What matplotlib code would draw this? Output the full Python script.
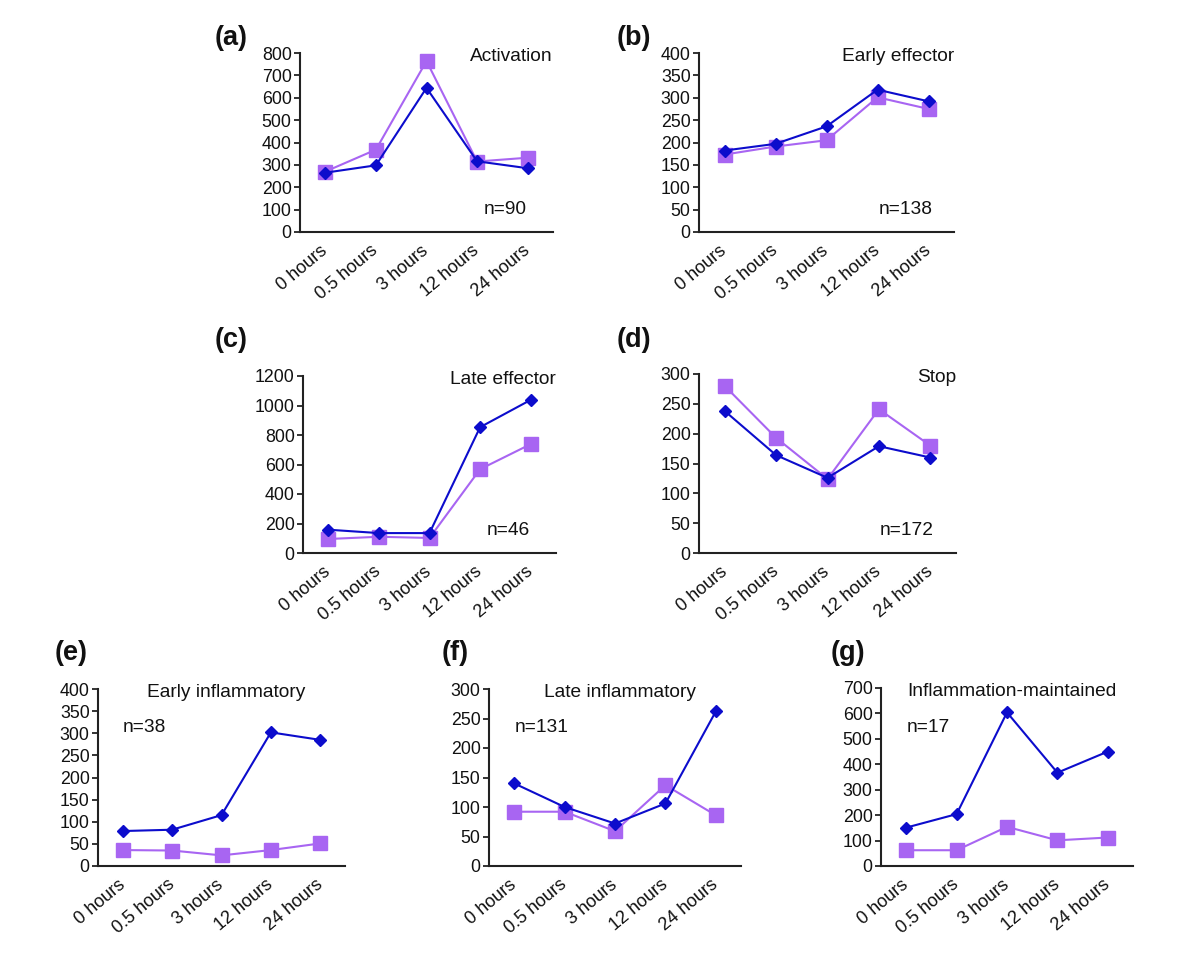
import matplotlib
matplotlib.use("Agg")
import matplotlib.pyplot as plt

plt.rcParams['font.family'] = ['Liberation Sans', 'DejaVu Sans']

categories = ["0 hours", "0.5 hours", "3 hours", "12 hours", "24 hours"]

panel_labels = ["(a)", "(b)", "(c)", "(d)", "(e)", "(f)", "(g)"]
titles = ["Activation", "Early effector", "Late effector", "Stop",
          "Early inflammatory", "Late inflammatory", "Inflammation-maintained"]
n_labels = ["n=90", "n=138", "n=46", "n=172", "n=38", "n=131", "n=17"]

blue_a = [265, 298, 644, 316, 285]
purple_a = [270, 368, 764, 315, 332]
blue_b = [182, 197, 236, 318, 292]
purple_b = [173, 191, 205, 301, 275]
blue_c = [158, 135, 135, 853, 1038]
purple_c = [95, 110, 102, 568, 738]
blue_d = [238, 164, 126, 179, 160]
purple_d = [280, 193, 124, 241, 180]
blue_e = [79, 82, 115, 302, 285]
purple_e = [36, 35, 24, 36, 51]
blue_f = [140, 100, 72, 106, 262]
purple_f = [92, 92, 59, 137, 86]
blue_g = [151, 204, 604, 367, 450]
purple_g = [62, 62, 154, 101, 112]

blues = [blue_a, blue_b, blue_c, blue_d, blue_e, blue_f, blue_g]
purples = [purple_a, purple_b, purple_c, purple_d, purple_e, purple_f, purple_g]
ymax = [800, 400, 1200, 300, 400, 300, 700]
ystep = [100, 50, 200, 50, 50, 50, 100]

W, H = 1200, 964
# axes boxes in pixels: left, top, right, bottom
boxes = [
    (300, 53, 553, 232),
    (699, 53, 954, 232),
    (303, 376, 556, 553),
    (699, 374, 956, 553),
    (98, 689, 345, 866),
    (489, 689, 741, 866),
    (881, 688, 1133, 866),
]
label_pos = [(215, 38), (617, 38), (215, 340), (617, 340), (55, 653), (442, 653), (831, 653)]

BLUE = "#0C0CCC"
PURPLE = "#A865F2"

fig = plt.figure(figsize=(W / 100, H / 100), dpi=100)

for i in range(7):
    l, t, r, b = boxes[i]
    ax = fig.add_axes([l / W, 1 - b / H, (r - l) / W, (b - t) / H])
    x = list(range(len(categories)))
    ax.plot(x, purples[i], color=PURPLE, lw=1.5, marker='s', ms=9.5,
            mec=PURPLE, mfc=PURPLE, zorder=2)
    ax.plot(x, blues[i], color=BLUE, lw=1.5, marker='D', ms=6.5,
            mec=BLUE, mfc=BLUE, zorder=3)
    ax.set_xlim(-0.5, 4.5)
    ax.set_ylim(0, ymax[i])
    ax.set_yticks(range(0, ymax[i] + 1, ystep[i]))
    ax.set_xticks(x)
    ax.set_xticklabels(categories, rotation=40, ha='right', va='center',
                       rotation_mode='anchor')
    for s in ['top', 'right']:
        ax.spines[s].set_visible(False)
    for s in ['left', 'bottom']:
        ax.spines[s].set_linewidth(1.5)
        ax.spines[s].set_color('#222222')
    ax.tick_params(axis='y', length=4, width=1.2, pad=2, labelsize=12.8, colors='#111111')
    ax.tick_params(axis='x', length=0, pad=12, labelsize=13, colors='#111111')
    if i < 4:
        ax.text(1.0, 0.98, titles[i], transform=ax.transAxes, ha='right', va='center',
                fontsize=13.8, color='#111111')
        ax.text(0.81, 0.125, n_labels[i], transform=ax.transAxes, ha='center', va='center',
                fontsize=13.8, color='#111111')
    else:
        ax.text(0.52, 0.98, titles[i], transform=ax.transAxes, ha='center', va='center',
                fontsize=13.8, color='#111111')
        ax.text(0.1, 0.78, n_labels[i], transform=ax.transAxes, ha='left', va='center',
                fontsize=13.8, color='#111111')
    lx, ly = label_pos[i]
    fig.text(lx / W, 1 - ly / H, panel_labels[i], ha='left', va='center',
             fontsize=19.5, fontweight='bold', color='#111111')

fig.savefig("out.png", dpi=100)
